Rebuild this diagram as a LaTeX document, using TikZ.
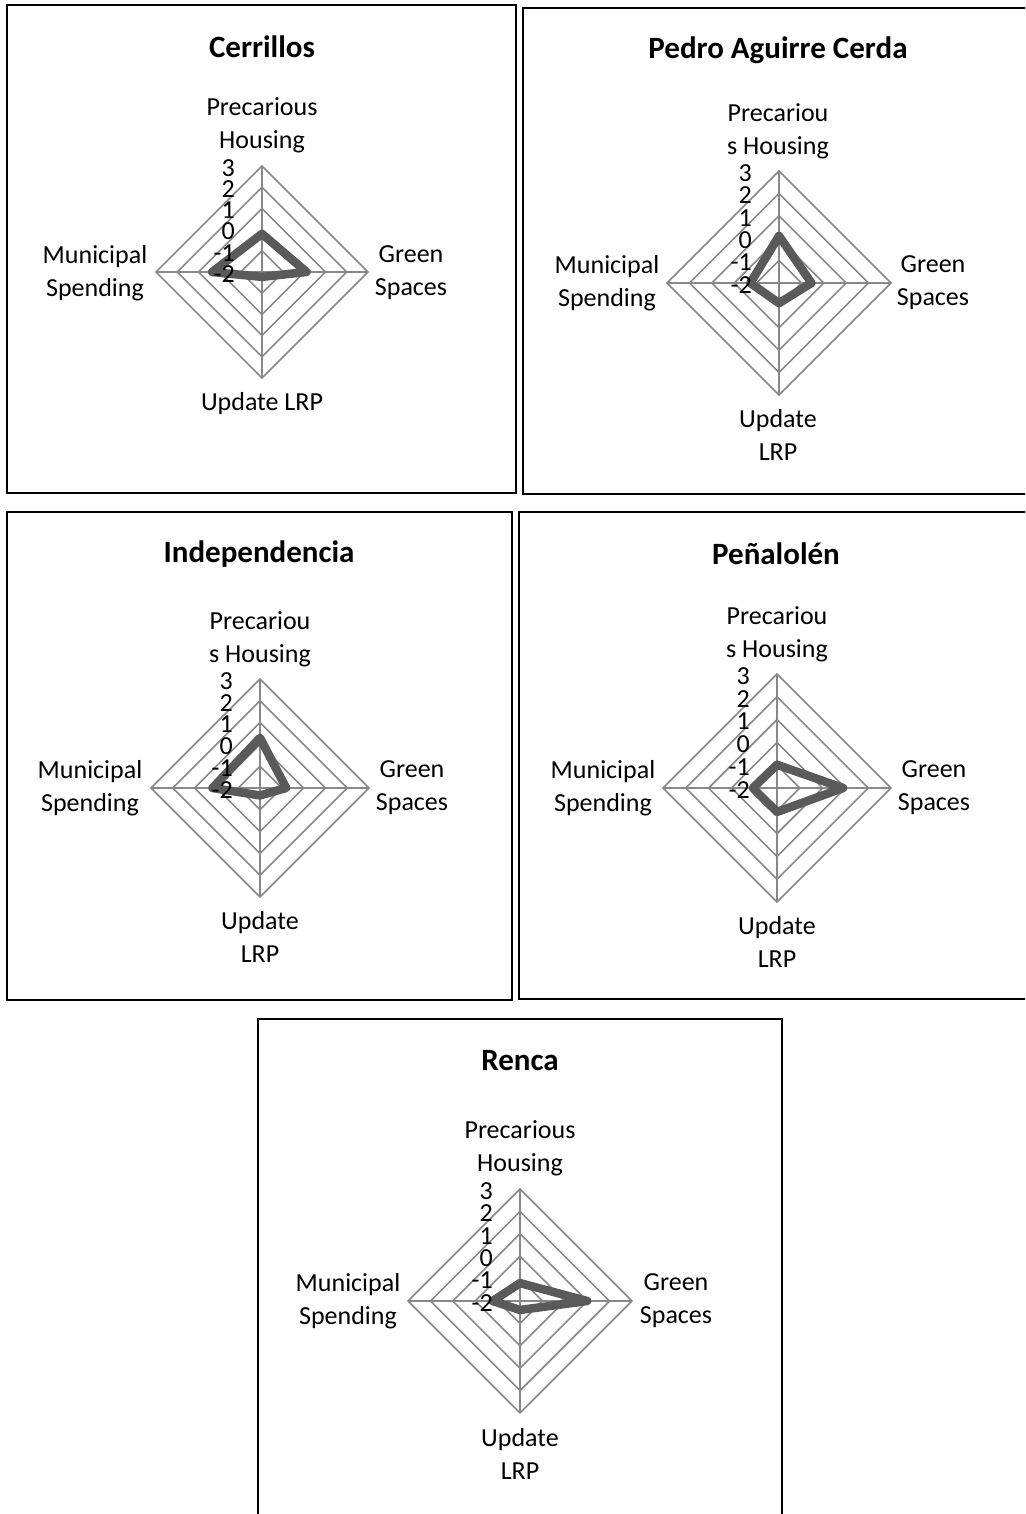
\documentclass[tikz,border=0pt]{standalone}
\usepackage{fontspec}
\setmainfont{Carlito}
\definecolor{gridgray}{HTML}{888888}
\definecolor{seriesgray}{HTML}{5A5A5A}
\tikzset{
  gridline/.style={draw=gridgray, line width=1.6pt},
  series/.style={draw=seriesgray, line width=8.5pt, line join=round},
  panelframe/.style={draw=black, line width=2pt},
  ticklbl/.style={font=\fontsize{26}{26}\selectfont, anchor=east, inner sep=0pt},
  axislbl/.style={font=\fontsize{26}{33}\selectfont, align=center, inner sep=0pt},
  paneltitle/.style={font=\bfseries\fontsize{31}{37}\selectfont, inner sep=0pt},
}
% #1 name, #2 cx, #3 cy, #4 outer radius, #5..#8 values
% (Precarious Housing, Green Spaces, Update LRP, Municipal Spending), scale -2..3
\newcommand{\spider}[8]{%
  \begin{scope}[shift={(#2,#3)}]
    \foreach \k in {1,...,5}{
      \draw[gridline] (0,-\k*#4/5) -- (\k*#4/5,0) -- (0,\k*#4/5) -- (-\k*#4/5,0) -- cycle;
    }
    \draw[gridline] (0,-#4) -- (0,#4);
    \draw[gridline] (-#4,0) -- (#4,0);
    \coordinate (#1-ph) at (0,{-(#5+2)*#4/5});
    \coordinate (#1-gs) at ({(#6+2)*#4/5},0);
    \coordinate (#1-up) at (0,{(#7+2)*#4/5});
    \coordinate (#1-ms) at ({-(#8+2)*#4/5},0);
    \draw[series] (#1-ph) -- (#1-gs) -- (#1-up) -- (#1-ms) -- cycle;
    \foreach \v [count=\i from 0] in {-2,-1,0,1,2,3}
      \node[ticklbl] (#1-t\i) at (-27,{-\i*#4/5+2}) {\v};
  \end{scope}%
}

\begin{document}
\begin{tikzpicture}[x=1pt,y=-1pt]
  \useasboundingbox (0,0) rectangle (1025,1514);
  \clip (0,0) rectangle (1025,1514);
  \fill[white] (0,0) rectangle (1025,1514);

  % panel frames
  \draw[panelframe] (7,5) rectangle (516,493);
  \draw[panelframe] (523,8) rectangle (1035,494);
  \draw[panelframe] (7,512) rectangle (512,1000);
  \draw[panelframe] (519,512) rectangle (1035,999);
  \draw[panelframe] (258,1019) rectangle (782,1530);

  % Cerrillos
  \node[paneltitle] (cer-title) at (262,47) {Cerrillos};
  \spider{cer}{262}{272}{106}{-0.2}{0.1}{-1.77}{0.35}
  \node[axislbl] (cer-ph) at (262,125) {Precarious\\Housing};
  \node[axislbl] (cer-gs) at (411,273) {Green\\Spaces};
  \node[axislbl] (cer-up) at (262,404) {Update LRP};
  \node[axislbl] (cer-ms) at (95,273) {Municipal\\Spending};

  % Pedro Aguirre Cerda
  \node[paneltitle] (pac-title) at (778,50) {Pedro Aguirre Cerda};
  \spider{pac}{779}{283}{112}{0.1}{-0.55}{-1.1}{-0.72}
  \node[axislbl] (pac-ph) at (778,131) {Precariou\\s Housing};
  \node[axislbl] (pac-gs) at (933,283) {Green\\Spaces};
  \node[axislbl] (pac-up) at (778,435) {Update\\LRP};
  \node[axislbl] (pac-ms) at (607,283) {Municipal\\Spending};

  % Independencia
  \node[paneltitle] (ind-title) at (259,554) {Independencia};
  \spider{ind}{260}{788}{109}{0.3}{-0.8}{-1.66}{0.18}
  \node[axislbl] (ind-ph) at (260,639) {Precariou\\s Housing};
  \node[axislbl] (ind-gs) at (412,788) {Green\\Spaces};
  \node[axislbl] (ind-up) at (260,937) {Update\\LRP};
  \node[axislbl] (ind-ms) at (90,788) {Municipal\\Spending};

  % Peñalolén
  \node[paneltitle] (pen-title) at (776,554) {Peñalolén};
  \spider{pen}{777}{788}{114}{-0.98}{0.9}{-0.95}{-0.94}
  \node[axislbl] (pen-ph) at (777,634) {Precariou\\s Housing};
  \node[axislbl] (pen-gs) at (934,788) {Green\\Spaces};
  \node[axislbl] (pen-up) at (777,942) {Update\\LRP};
  \node[axislbl] (pen-ms) at (603,788) {Municipal\\Spending};

  % Renca
  \node[paneltitle] (ren-title) at (520,1061) {Renca};
  \spider{ren}{520}{1301}{112}{-1.2}{1.0}{-1.6}{-0.78}
  \node[axislbl] (ren-ph) at (520,1148) {Precarious\\Housing};
  \node[axislbl] (ren-gs) at (676,1301) {Green\\Spaces};
  \node[axislbl] (ren-up) at (520,1454) {Update\\LRP};
  \node[axislbl] (ren-ms) at (348,1301) {Municipal\\Spending};
\end{tikzpicture}
\end{document}
